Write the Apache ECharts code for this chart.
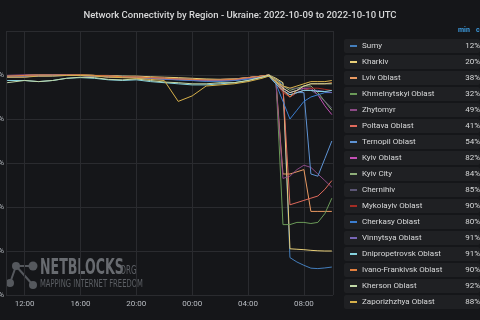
<!DOCTYPE html>
<html>
<head>
<meta charset="utf-8">
<script src="https://cdn.jsdelivr.net/npm/echarts@6/dist/echarts.min.js"></script>
<style>
  html, body { margin: 0; padding: 0; background: #151619; }
  #main { width: 480px; height: 320px; }
</style>
</head>
<body>
<div id="main"></div>
<script>
  var times = ['2022-10-09 10:45', '2022-10-09 12:00', '2022-10-09 13:00', '2022-10-09 14:00', '2022-10-09 15:00',
    '2022-10-09 16:00', '2022-10-09 17:00', '2022-10-09 18:00', '2022-10-09 19:00', '2022-10-09 20:00',
    '2022-10-09 21:00', '2022-10-09 22:00', '2022-10-09 23:00', '2022-10-10 00:00', '2022-10-10 01:00',
    '2022-10-10 02:00', '2022-10-10 03:00', '2022-10-10 04:00', '2022-10-10 05:00', '2022-10-10 05:30',
    '2022-10-10 06:00', '2022-10-10 06:30', '2022-10-10 07:00', '2022-10-10 07:30', '2022-10-10 08:00',
    '2022-10-10 08:30', '2022-10-10 09:00', '2022-10-10 09:30', '2022-10-10 10:00'];

  var regions = ['Sumy', 'Kharkiv', 'Lviv Oblast', 'Khmelnytskyi Oblast', 'Zhytomyr', 'Poltava Oblast',
    'Ternopil Oblast', 'Kyiv Oblast', 'Kyiv City', 'Chernihiv', 'Mykolayiv Oblast', 'Cherkasy Oblast',
    'Vinnytsya Oblast', 'Dnipropetrovsk Oblast', 'Ivano-Frankivsk Oblast', 'Kherson Oblast', 'Zaporizhzhya Oblast'];

  // "min" column of the legend table
  var minLabels = [12, 20, 38, 32, 49, 41, 54, 82, 84, 85, 90, 80, 91, 91, 90, 92, 88];

  var sumy = [99.5, 99.5, 99.8, 99.8, 100, 100, 99.8, 99.5, 99.5, 99.2, 99, 98.5, 98.2, 98, 97.8, 97.8, 98, 98.5, 99.5, 100, 98, 96, 17, 15, 13.5, 12.2, 12, 12.3, 12.7];
  var kharkiv = [99.8, 99.8, 100, 100, 100, 100, 99.8, 99.8, 99.5, 99.5, 99.2, 99, 98.8, 98.5, 98.2, 98, 98.2, 98.8, 99.5, 100, 98.5, 96.5, 21, 20.8, 20.6, 20.3, 20.1, 20, 20];
  var lviv = [99, 99.2, 99.5, 99.8, 100, 100, 99.8, 99.5, 99.2, 99, 98.8, 98.5, 98.2, 98, 97.8, 97.8, 98, 98.5, 99.2, 99.8, 97, 55, 55, 56, 57, 38, 38, 38, 38];
  var khmelnytskyi = [99.2, 99.5, 99.5, 99.8, 100, 100, 99.8, 99.5, 99.2, 99, 98.8, 98.5, 98.2, 98, 97.8, 97.5, 97.8, 98.5, 99.5, 100, 98, 32, 32, 33, 33, 32.5, 33, 37, 44];
  var zhytomyr = [99.5, 99.5, 99.8, 100, 100, 99.8, 99.5, 99.2, 99, 98.8, 98.5, 98.2, 98, 97.8, 97.5, 97.5, 97.8, 98.5, 99.2, 99.8, 96, 53, 54, 57, 59, 58, 55, 52, 49];
  var poltava = [99.5, 99.8, 100, 100, 99.8, 99.8, 99.5, 99.2, 99, 98.8, 98.5, 98.2, 98, 97.8, 97.8, 98, 98.2, 98.8, 99.5, 100, 98, 95, 41, 42, 43, 44, 45, 48, 52];
  var ternopil = [99, 99.2, 99.5, 99.5, 99.8, 99.8, 99.5, 99.2, 99, 98.8, 98.5, 98, 97.8, 97.5, 97.2, 97.2, 97.5, 98.2, 99, 99.5, 96, 93, 90, 92, 92, 55, 54, 62, 70];
  var kyivOblast = [99.8, 100, 100, 100, 100, 99.8, 99.5, 99.5, 99.2, 99, 98.8, 98.5, 98.2, 98, 97.8, 97.8, 98, 98.8, 99.5, 100, 97, 94, 92, 93, 94, 94, 91, 86, 82];
  var kyivCity = [99.5, 99.8, 100, 100, 100, 100, 99.8, 99.5, 99.2, 99, 98.8, 98.5, 98.2, 98, 98, 98, 98.2, 98.8, 99.5, 100, 98, 95, 93, 94, 95, 95, 92, 88, 84];
  var chernihiv = [99.8, 99.8, 100, 100, 99.8, 99.8, 99.5, 99.2, 99, 98.8, 98.5, 98.2, 98, 97.8, 97.5, 97.5, 97.8, 98.5, 99.2, 99.8, 97, 95, 94, 94, 93, 93, 91, 88, 85];
  var mykolayiv = [99.2, 99.5, 99.5, 99.8, 100, 100, 99.8, 99.5, 99.2, 99, 98.8, 98.5, 98, 97.8, 97.5, 97.5, 97.8, 98.5, 99.2, 99.5, 96, 92, 90, 92, 93, 94, 94, 93.5, 93];
  var cherkasy = [99, 99.2, 99.5, 99.8, 99.8, 99.8, 99.5, 99.2, 99, 98.8, 98.5, 98.2, 97.8, 97.5, 97.2, 97.2, 97.5, 98.2, 99, 99.5, 96, 88, 80, 84, 88, 90, 91, 92, 92];
  var vinnytsya = [99.5, 99.5, 99.8, 100, 100, 99.8, 99.5, 99.2, 99, 98.8, 98.5, 98.2, 98, 97.8, 97.5, 97.5, 97.8, 98.5, 99.2, 99.8, 97, 93, 91, 92, 93, 93, 93, 92.5, 92];
  var dnipropetrovsk = [97.5, 97.5, 97, 97.5, 98.5, 98.8, 98.5, 97.8, 97.5, 97.8, 97, 96.5, 96, 95.5, 95.5, 96, 96.5, 97.5, 99, 99.5, 96, 93, 91, 92, 93, 93, 92.5, 92.5, 93];
  var ivanoFrankivsk = [99.5, 99.8, 100, 100, 100, 100, 99.8, 99.5, 99.2, 99, 98.8, 98.5, 98.2, 98, 97.8, 97.8, 98, 98.8, 99.5, 100, 97, 93, 90, 93, 95, 96, 96, 96, 96.5];
  var kherson = [96.5, 97.5, 97, 97.5, 98.5, 99, 98.8, 98, 97.8, 98.2, 97.5, 96.8, 96.5, 96, 96, 96.5, 96.5, 97.5, 99, 100, 97, 94, 92, 93, 95, 96, 96, 96, 96];
  var zaporizhzhya = [99, 99, 99.5, 99.5, 99.8, 99.8, 99.5, 99, 98.8, 98.5, 98, 97.5, 88, 90.5, 95, 95.5, 96, 97, 98.5, 99.5, 97, 95, 94, 95, 96, 97, 97, 97, 97.5];

  var yTicks = [0, 20, 40, 60, 80, 100, 120];

  var seriesValues = [sumy, kharkiv, lviv, khmelnytskyi, zhytomyr, poltava, ternopil, kyivOblast, kyivCity,
    chernihiv, mykolayiv, cherkasy, vinnytsya, dnipropetrovsk, ivanoFrankivsk, kherson, zaporizhzhya];

  var colors = ['#447ebc', '#e8cf78', '#ea9a62', '#6b9a58', '#8c4a86', '#e06a5c', '#5e93d4', '#c450b5', '#8fae79',
    '#5c5676', '#a32c24', '#3b7dd0', '#7866b6', '#86d2de', '#e2803f', '#c2d9a8', '#d6b04a'];

  var myChart = echarts.init(document.getElementById('main'));

  // legend rows: marker + name + min value, drawn as rich text
  var rich = {
    s: { width: 6, height: 2, fontSize: 1 },
    g: { width: 5, height: 2, fontSize: 1 },
    n: { width: 91, fontSize: 8, color: '#d8d9da', fontFamily: 'Roboto' },
    v: { width: 18, align: 'right', fontSize: 8, color: '#d8d9da', fontFamily: 'Roboto' }
  };
  colors.forEach(function (c, i) {
    rich['m' + i] = { width: 7, height: 2, fontSize: 1, backgroundColor: c };
  });

  var series = regions.map(function (name, i) {
    return {
      name: name,
      type: 'line',
      symbol: 'none',
      color: colors[i],
      lineStyle: { width: 1 },
      emphasis: { disabled: true },
      data: times.map(function (t, j) { return [t, seriesValues[i][j]]; })
    };
  });

  var wmFont = '"DejaVu Sans", sans-serif';

  var option = {
    backgroundColor: '#151619',
    animation: false,
    title: {
      text: 'Network Connectivity by Region - Ukraine: 2022-10-09 to 2022-10-10 UTC',
      left: 'center',
      top: 6,
      textStyle: { color: '#d8d9da', fontSize: 9.5, fontWeight: 500, fontFamily: 'Roboto' }
    },
    grid: { left: 6, right: 147, top: 31, bottom: 25, outerBoundsMode: 'none', containLabel: false },
    legend: {
      orient: 'vertical',
      left: 339,
      top: 39,
      padding: 0,
      icon: 'none',
      itemWidth: 0,
      itemHeight: 0,
      itemGap: 2,
      selectedMode: false,
      data: regions,
      formatter: function (name) {
        var i = regions.indexOf(name);
        return '{s| }{m' + i + '| }{g| }{n|' + name + '}{v|' + minLabels[i] + '%}';
      },
      textStyle: {
        color: '#d8d9da',
        fontSize: 8,
        fontFamily: 'Roboto',
        backgroundColor: '#1f2023',
        width: 136,
        height: 14,
        lineHeight: 14,
        borderRadius: 2,
        rich: rich
      }
    },
    xAxis: {
      type: 'time',
      min: '2022-10-09 10:40',
      max: '2022-10-10 10:05',
      splitNumber: 5,
      axisLine: { show: false },
      axisTick: { show: false },
      axisLabel: {
        formatter: '{HH}:{mm}',
        color: '#b8bcc2',
        fontSize: 8,
        fontFamily: 'Roboto',
        margin: 5,
        showMinLabel: false,
        showMaxLabel: false
      },
      splitLine: { show: true, lineStyle: { color: '#2a2b2f', width: 1 } }
    },
    yAxis: {
      type: 'value',
      min: yTicks[0],
      max: yTicks[yTicks.length - 1],
      interval: 20,
      axisLine: { show: false },
      axisTick: { show: false },
      axisLabel: {
        formatter: '{value}%',
        color: '#b8bcc2',
        fontSize: 8,
        fontFamily: 'Roboto',
        margin: 2,
        showMaxLabel: false
      },
      splitLine: { lineStyle: { color: '#2a2b2f', width: 1 } }
    },
    graphic: [
      {
        type: 'text', x: 458, y: 27,
        style: { text: 'min', fill: '#3d9ce0', font: 'bold 7px Roboto' }
      },
      {
        type: 'text', x: 476, y: 27,
        style: { text: 'current', fill: '#3d9ce0', font: 'bold 7px Roboto' }
      },
      // NetBlocks watermark
      {
        type: 'group', x: 0, y: 0, silent: true,
        children: [
          { type: 'line', shape: { x1: 16, y1: 266, x2: 33, y2: 266 }, style: { stroke: '#55585d', lineWidth: 2 } },
          { type: 'line', shape: { x1: 16, y1: 266, x2: 10, y2: 283 }, style: { stroke: '#55585d', lineWidth: 2 } },
          { type: 'line', shape: { x1: 16, y1: 266, x2: 33, y2: 285 }, style: { stroke: '#55585d', lineWidth: 2 } },
          { type: 'circle', shape: { cx: 16, cy: 266, r: 4 }, style: { fill: '#55585d' } },
          { type: 'circle', shape: { cx: 33, cy: 266, r: 4.5 }, style: { fill: '#55585d' } },
          { type: 'circle', shape: { cx: 10, cy: 283, r: 4 }, style: { fill: '#55585d' } },
          { type: 'circle', shape: { cx: 33, cy: 285, r: 4 }, style: { fill: '#55585d' } },
          {
            type: 'text', x: 40, y: 258, scaleX: 0.6,
            style: { text: 'NETBLOCKS', fill: '#686b70', font: 'bold 21px ' + wmFont }
          },
          {
            type: 'text', x: 118, y: 265, scaleX: 0.6,
            style: { text: '.ORG', fill: '#5c5f64', font: '12px ' + wmFont }
          },
          {
            type: 'text', x: 40, y: 279, scaleX: 0.68,
            style: { text: 'MAPPING INTERNET FREEDOM', fill: '#5c5f64', font: '10px ' + wmFont }
          }
        ]
      }
    ],
    series: series
  };

  myChart.setOption(option);
</script>
</body>
</html>
